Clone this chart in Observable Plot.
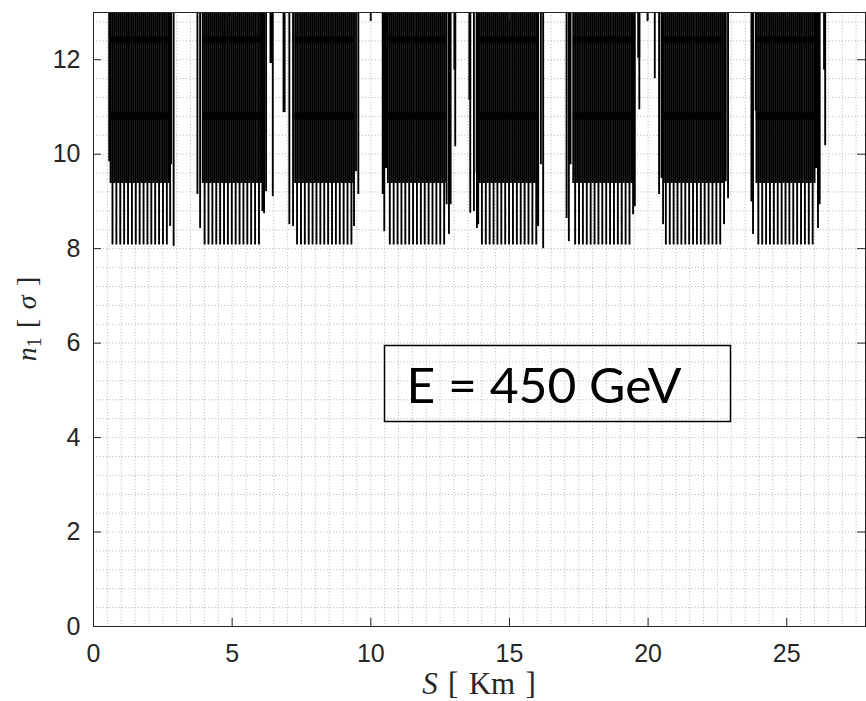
<!DOCTYPE html>
<html><head><meta charset="utf-8">
<script src="https://cdn.jsdelivr.net/npm/d3@7"></script>
<script src="https://cdn.jsdelivr.net/npm/@observablehq/plot@0.6"></script>
<style>html,body{margin:0;padding:0;background:#fff} #chart svg{display:block}</style>
</head><body><div id="chart"></div>
<script>
// ---------------- data ----------------
const xTicks = [0, 5, 10, 15, 20, 25];
const yTicks = [0, 2, 4, 6, 8, 10, 12];
const xDomain = [0, 27.84];
const yDomain = [0, 13];

// arcs: position of first regular quadrupole dip (km), regular FODO lattice
const arcFirstDeep = [0.685, 4.007, 7.341, 10.685, 14.007, 17.369, 20.641, 23.975];
const cellLength = 0.14;          // km between deep dips
const deepCellsPerArc = 15;
const deepMin = 8.1;              // n1 at deep dips
const shallowMin = 9.4;           // n1 at intermediate dips
const offScaleN1 = 14;            // n1 between dips (above the plotted range)
const bandLow = [10.72, 12.35];   // dense horizontal bands inside arcs
const bandHigh = [10.88, 12.48];

// isolated dips near arc ends and in the insertions
const edgeS  = [0.566, 2.764, 2.800, 2.890, 3.748, 3.845, 6.090, 6.151, 6.224, 6.465,
                7.063, 7.196, 9.395, 9.467, 9.550, 9.996, 10.429, 10.486, 10.548,
                12.735, 12.818, 12.879, 13.045, 13.586, 13.719, 13.816, 13.827, 13.874, 13.910,
                16.036, 16.133, 16.216, 17.060, 17.142, 17.204, 19.423, 19.459, 19.521,
                19.683, 19.978, 20.241, 20.396, 20.483, 20.541, 22.739, 22.800, 22.883,
                23.726, 23.784, 23.881, 26.069, 26.126, 26.188, 26.386];
const edgeN1 = [9.86, 8.49, 9.80, 8.07, 9.17, 8.45, 8.81, 8.76, 9.23, 9.12,
                8.53, 8.49, 8.49, 9.65, 9.17, 12.83, 9.17, 8.38, 9.72,
                8.95, 8.32, 8.95, 10.18, 8.77, 8.81, 9.61, 8.45, 8.53, 9.86,
                8.49, 9.80, 8.02, 8.66, 8.17, 9.80, 10.55, 8.74, 8.91,
                10.96, 12.83, 11.62, 9.17, 9.51, 8.53, 8.53, 9.44, 9.08,
                9.01, 8.32, 10.93, 9.72, 8.45, 8.95, 10.20];

// dense clusters in the insertions (drawn as solid blocks from the top)
const barS1 = [6.366, 6.836, 12.998, 13.539, 19.627, 26.330];
const barS2 = [6.474, 6.944, 13.095, 13.636, 19.735, 26.430];
const barN1 = [11.92, 10.88, 11.78, 11.14, 12.03, 11.78];

const annotation = "E = 450 GeV";

// ---------------- layout / style ----------------
const W = 866, H = 701;
const mTop = 12, mRight = 1, mBottom = 75, mLeft = 93;
const plotW = W - mLeft - mRight, plotH = H - mTop - mBottom;
const deepWidth = 0.027, shallowWidth = 0.023, edgeWidth = 0.026;
const tickLen = 8;

// ---------------- build tables ----------------
const dips = [];
arcFirstDeep.forEach(s0 => {
  for (let k = 0; k < deepCellsPerArc; k++) dips.push({s: s0 + k * cellLength, n1: deepMin, w: deepWidth});
  for (let k = 0; k <= deepCellsPerArc; k++) dips.push({s: s0 + (k - 0.5) * cellLength, n1: shallowMin, w: shallowWidth});
});
edgeS.forEach((s, i) => dips.push({s, n1: edgeN1[i], w: edgeWidth}));
dips.sort((a, b) => a.s - b.s);
const path = [];
for (const d of dips) {
  path.push({s: d.s - d.w / 2, n1: offScaleN1}, {s: d.s - d.w / 2, n1: d.n1},
            {s: d.s + d.w / 2, n1: d.n1}, {s: d.s + d.w / 2, n1: offScaleN1});
}
const bands = [];
arcFirstDeep.forEach(s0 => bandLow.forEach((lo, j) => bands.push({
  s1: s0 - 0.5 * cellLength, s2: s0 + (deepCellsPerArc - 0.5) * cellLength, lo, hi: bandHigh[j]})));
const bars = barS1.map((s, i) => ({s1: s, s2: barS2[i], n1: barN1[i]}));

const minorX = d3.range(0.5, xDomain[1], 0.5);
const minorY = d3.range(0.4, yDomain[1], 0.4);
const gridStyle = {stroke: "#b4b4b4", strokeOpacity: 1, strokeDasharray: "1,2.2", strokeWidth: 1};
const tickFont = {fontFamily: "'Liberation Sans', Arial, sans-serif", fill: "#262626"};

const svg = Plot.plot({
  width: W, height: H,
  marginTop: mTop, marginRight: mRight, marginBottom: mBottom, marginLeft: mLeft,
  style: {fontFamily: "'Liberation Sans', Arial, sans-serif", color: "#262626", background: "#fff"},
  x: {domain: xDomain},
  y: {domain: yDomain},
  marks: [
    Plot.gridX(minorX, gridStyle),
    Plot.gridY(minorY, gridStyle),
    Plot.rect(bands, {x1: "s1", x2: "s2", y1: "lo", y2: "hi", fill: "#000", fillOpacity: 0.9, clip: true}),
    Plot.rect(bars, {x1: "s1", x2: "s2", y1: "n1", y2: yDomain[1], fill: "#000", clip: true}),
    Plot.line(path, {x: "s", y: "n1", stroke: "#000", strokeWidth: 1.15, clip: true}),
    Plot.axisX(xTicks, {tickSize: 0, tickPadding: 18, label: null, ...tickFont}),
    Plot.axisY(yTicks, {tickSize: 0, tickPadding: 13, label: null, ...tickFont}),
    Plot.ruleX(xTicks, {stroke: "#262626", insetTop: plotH - tickLen}),
    Plot.ruleX(xTicks, {stroke: "#262626", insetBottom: plotH - tickLen}),
    Plot.ruleY(yTicks, {stroke: "#262626", insetRight: plotW - tickLen}),
    Plot.ruleY(yTicks, {stroke: "#262626", insetLeft: plotW - tickLen}),
    Plot.frame({stroke: "#262626", strokeWidth: 1})
  ]
});

const s = d3.select(svg);
// tick label size
s.selectAll("[aria-label$='tick label']").attr("font-size", 25).style("font-size", "25px");
// annotation box
s.append("rect").attr("x", 384.5).attr("y", 345.5).attr("width", 346).attr("height", 76)
  .attr("fill", "none").attr("stroke", "#000").attr("stroke-width", 1.5);
s.append("text").attr("x", 406.5).attr("y", 403).attr("text-anchor", "start")
  .attr("font-family", "Lato, 'DejaVu Sans', sans-serif").attr("font-size", 48.5)
  .attr("fill", "#000").attr("textLength", 275).attr("lengthAdjust", "spacingAndGlyphs")
  .text(annotation);
// x label
const sp = "\u2004";
const xl = s.append("text").attr("x", mLeft + plotW / 2).attr("y", 694).attr("text-anchor", "middle")
  .attr("font-family", "'Liberation Serif', 'DejaVu Serif', serif").attr("font-size", 31).attr("fill", "#262626");
xl.append("tspan").attr("font-style", "italic").text("S");
xl.append("tspan").text(`${sp}[${sp}Km${sp}]`);
// y label
const yl = s.append("text").attr("transform", `translate(36,${mTop + plotH / 2}) rotate(-90)`)
  .attr("text-anchor", "middle")
  .attr("font-family", "'Liberation Serif', 'DejaVu Serif', serif").attr("font-size", 28).attr("fill", "#262626");
yl.append("tspan").attr("font-style", "italic").text("n");
yl.append("tspan").attr("font-size", 20).attr("dy", 5).text("1");
yl.append("tspan").attr("dy", -5).text(`${sp}[${sp}`);
yl.append("tspan").attr("font-style", "italic").text("\u03c3");
yl.append("tspan").text(`${sp}]`);

document.getElementById("chart").appendChild(svg);
</script>
</body></html>
